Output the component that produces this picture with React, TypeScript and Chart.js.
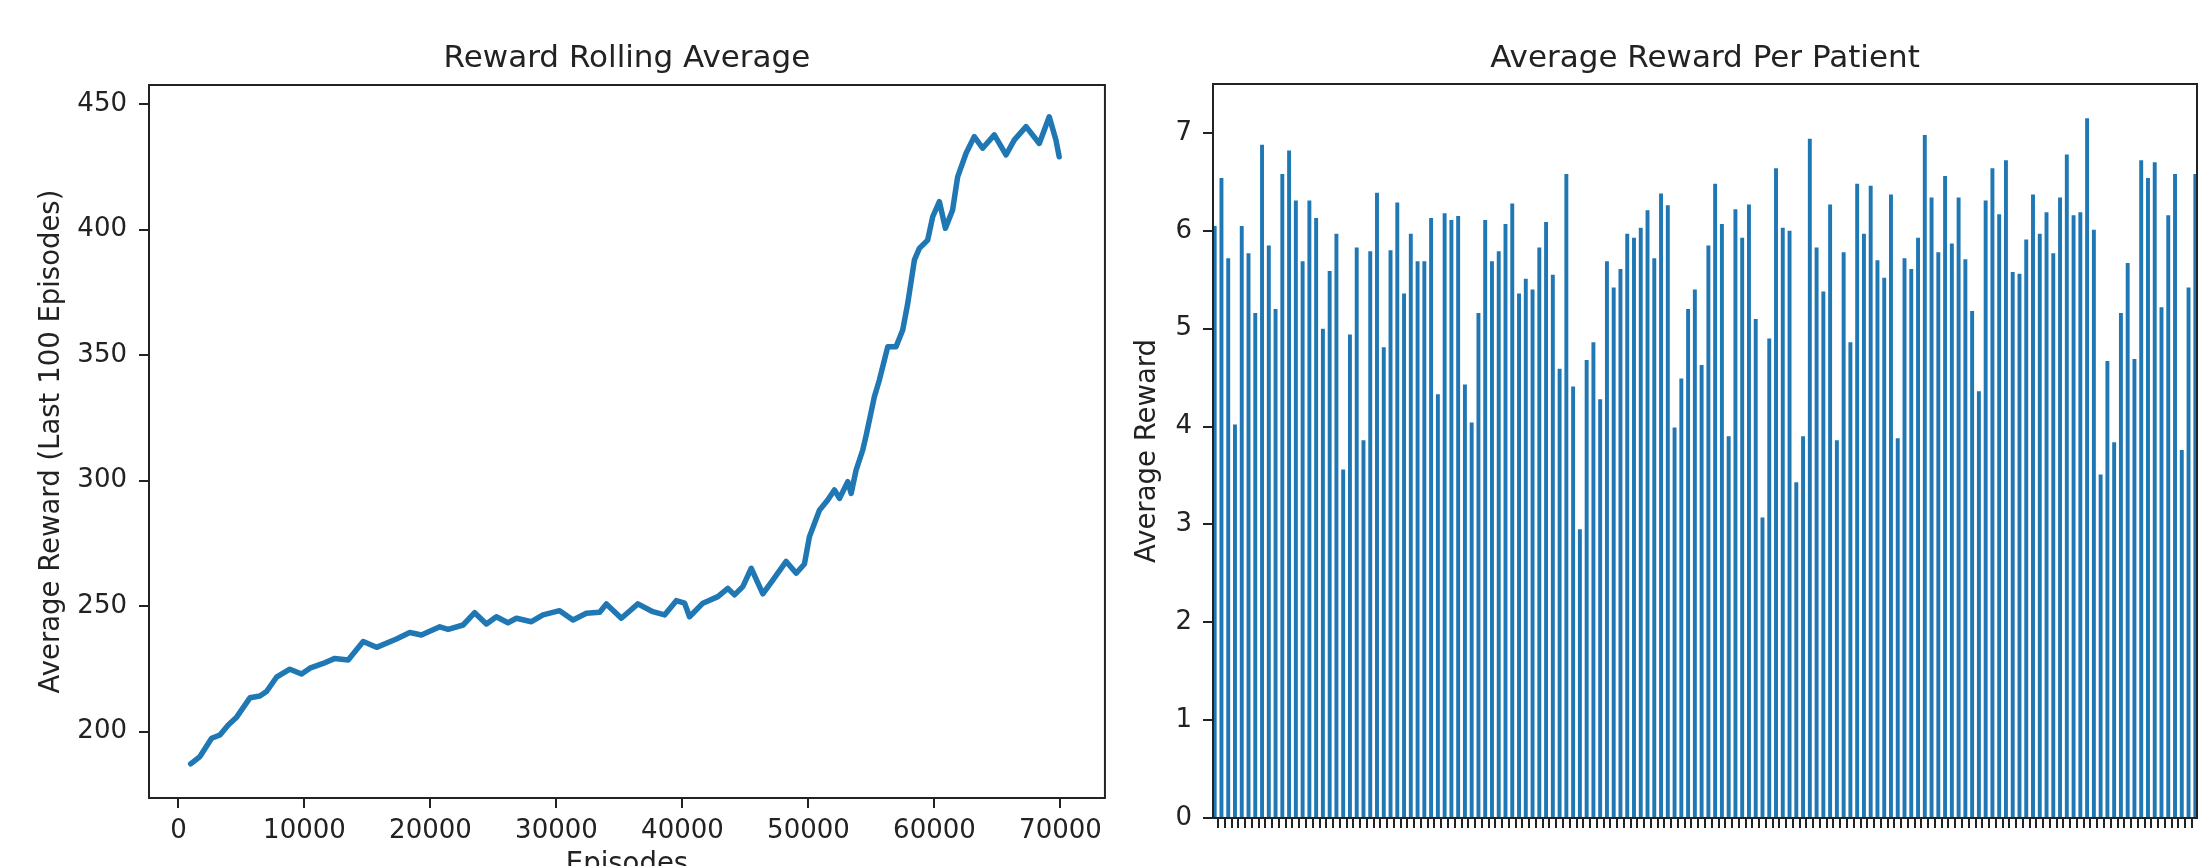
import React, { useEffect, useRef } from "react";
import { Chart, registerables } from "chart.js";

Chart.register(...registerables);

// ---------- Data ----------
const episodes = [
  967, 1705, 2630, 3290, 3950, 4615, 5670, 6460, 6990, 7780, 8840, 9770, 10430, 11480, 12410, 13470,
  14660, 15720, 17300, 18360, 19280, 20740, 21400, 22590, 23510, 24440, 25230, 26150, 26820, 28010,
  28930, 30250, 31310, 32370, 33430, 33960, 35150, 36460, 37650, 38580, 39510, 40170, 40560, 41620,
  42810, 43600, 44130, 44790, 45460, 46380, 47170, 48230, 49030, 49680, 50080, 50870, 51530, 52060,
  52460, 53120, 53390, 53780, 54310, 54580, 55230, 55630, 56290, 56950, 57480, 57880, 58410, 58800,
  59460, 59860, 60390, 60870, 61440, 61840, 62510, 63160, 63820, 64750, 65680, 66340, 67270, 68320,
  69110, 69640, 69900,
];
const rollingReward = [
  187.2, 190.1, 197.4, 198.7, 202.7, 205.8, 213.5, 214.2, 216, 221.7, 224.9, 223, 225.3, 227.2, 229.2, 228.6,
  235.9, 233.6, 236.9, 239.5, 238.5, 241.8, 240.8, 242.5, 247.4, 242.9, 245.8, 243.4, 245.2, 243.8,
  246.5, 248.2, 244.5, 247.2, 247.6, 250.9, 245.2, 250.9, 247.8, 246.5, 252.2, 251.2, 245.8, 251.2,
  253.8, 257.1, 254.5, 257.8, 265.1, 254.9, 260.4, 267.8, 263.1, 266.8, 277.7, 288.2, 292.3, 296.3,
  292.9, 299.6, 294.9, 304.2, 312.2, 318, 333.4, 340.1, 353.3, 353.3, 360, 370.6, 387.9, 392.5,
  395.8, 405.1, 411.1, 400.5, 407.8, 421, 430.4, 437, 432.4, 437.7, 429.7, 435.7, 441, 434.3,
  444.9, 435.7, 429,
];
const episodeTicks = [0, 10000, 20000, 30000, 40000, 50000, 60000, 70000];
const rewardTicks = [200, 250, 300, 350, 400, 450];

const patientRewards = [
  6.05, 6.54, 5.72, 4.02, 6.05, 5.77, 5.16, 6.88, 5.85, 5.2, 6.58, 6.82, 6.31, 5.69, 6.31, 6.13, 5.0, 5.59, 5.97, 3.56,
  4.94, 5.83, 3.86, 5.79, 6.39, 4.81, 5.8, 6.29, 5.36, 5.97, 5.69, 5.69, 6.13, 4.33, 6.18, 6.11, 6.15, 4.43, 4.04, 5.16,
  6.11, 5.69, 5.79, 6.07, 6.28, 5.36, 5.51, 5.4, 5.83, 6.09, 5.55, 4.59, 6.58, 4.41, 2.95, 4.68, 4.86, 4.28, 5.69, 5.42,
  5.61, 5.97, 5.93, 6.03, 6.21, 5.72, 6.38, 6.26, 3.99, 4.49, 5.2, 5.4,
  4.63, 5.85, 6.48, 6.07, 3.9, 6.22, 5.93, 6.27, 5.1, 3.07, 4.9, 6.64, 6.03, 6.0, 3.43, 3.9, 6.94, 5.83, 5.38, 6.27,
  3.86, 5.78, 4.86, 6.48, 5.97, 6.46, 5.7, 5.52, 6.37, 3.88, 5.72, 5.61, 5.93, 6.98, 6.34, 5.78, 6.56, 5.87, 6.34, 5.71,
  5.18, 4.36, 6.31, 6.64, 6.17, 6.72, 5.58, 5.56, 5.91, 6.37, 5.97, 6.19, 5.77, 6.34, 6.78, 6.16, 6.19, 7.15, 6.01, 3.51,
  4.67, 3.84, 5.16, 5.67, 4.69, 6.72, 6.54, 6.7, 5.22, 6.16, 6.58, 3.76, 5.42, 6.58,
];
const patientIds = patientRewards.map((_, i) => i);
const patientRewardTicks = [0, 1, 2, 3, 4, 5, 6, 7];

// ---------- Style ----------
const FONT = "'DejaVu Sans', 'Noto Sans', sans-serif";
const INK = "#222222";
const BLUE = "#1f77b4";
const TICK_FONT = { family: FONT, size: 26 };

function decorPlugin(
  id: string,
  title: string,
  yLabel: string,
  yLabelX: number,
  xLabel?: string,
  xLabelY?: number
) {
  return {
    id,
    afterDraw(chart: any) {
      const { ctx, chartArea: ca } = chart;
      ctx.save();
      ctx.fillStyle = INK;
      ctx.strokeStyle = INK;
      ctx.lineWidth = 2;
      ctx.strokeRect(ca.left, ca.top, ca.right - ca.left, ca.bottom - ca.top);
      ctx.font = `31px ${FONT}`;
      ctx.textAlign = "center";
      ctx.textBaseline = "alphabetic";
      ctx.fillText(title, (ca.left + ca.right) / 2, 67);
      if (xLabel && xLabelY !== undefined) {
        ctx.font = `27.5px ${FONT}`;
        ctx.fillText(xLabel, (ca.left + ca.right) / 2, xLabelY);
      }
      ctx.save();
      ctx.translate(yLabelX, (ca.top + ca.bottom) / 2);
      ctx.rotate(-Math.PI / 2);
      ctx.font = `27.5px ${FONT}`;
      ctx.textAlign = "center";
      ctx.textBaseline = "middle";
      ctx.fillText(yLabel, 0, 0);
      ctx.restore();
      ctx.restore();
    },
  };
}

const tickGrid = {
  display: true,
  drawOnChartArea: false,
  drawTicks: true,
  tickLength: 10,
  color: INK,
  lineWidth: 2,
};

function LineChart() {
  const ref = useRef<HTMLCanvasElement | null>(null);
  useEffect(() => {
    if (!ref.current) return;
    const W = 1110;
    const H = 900;
    const area = { left: 149, right: 1106, top: 85, bottom: 798 };
    const chart = new Chart(ref.current, {
      type: "line",
      data: {
        datasets: [
          {
            data: episodes.map((e, i) => ({ x: e, y: rollingReward[i] })),
            borderColor: BLUE,
            borderWidth: 5.5,
            borderJoinStyle: "round",
            borderCapStyle: "round",
            pointRadius: 0,
            tension: 0,
            fill: false,
          },
        ],
      },
      options: {
        animation: false,
        responsive: false,
        devicePixelRatio: 1,
        events: [],
        layout: { padding: { left: 0, top: area.top, right: W - area.right, bottom: 0 } },
        plugins: { legend: { display: false }, title: { display: false }, tooltip: { enabled: false } },
        scales: {
          x: {
            type: "linear",
            min: -2339,
            max: 73530,
            afterBuildTicks: (axis: any) => {
              axis.ticks = episodeTicks.map((v) => ({ value: v }));
            },
            afterFit: (scale: any) => {
              scale.height = H - area.bottom;
            },
            ticks: {
              font: TICK_FONT,
              color: INK,
              padding: 8,
              maxRotation: 0,
              minRotation: 0,
              autoSkip: false,
              callback: (v: any) => String(v),
            },
            grid: tickGrid,
            border: { display: false },
          },
          y: {
            type: "linear",
            min: 173.6,
            max: 457.57,
            afterBuildTicks: (axis: any) => {
              axis.ticks = rewardTicks.map((v) => ({ value: v }));
            },
            afterFit: (scale: any) => {
              scale.width = area.left;
            },
            ticks: {
              font: TICK_FONT,
              color: INK,
              padding: 12,
              callback: (v: any) => String(v),
            },
            grid: tickGrid,
            border: { display: false },
          },
        },
      },
      plugins: [
        decorPlugin("decorLeft", "Reward Rolling Average", "Average Reward (Last 100 Episodes)", 52, "Episodes", 872),
      ],
    } as any);
    return () => chart.destroy();
  }, []);
  return (
    <canvas
      ref={ref}
      width={1110}
      height={900}
      style={{ position: "absolute", left: 0, top: 0, width: 1110, height: 900 }}
    />
  );
}

function BarChart() {
  const ref = useRef<HTMLCanvasElement | null>(null);
  useEffect(() => {
    if (!ref.current) return;
    const W = 1090;
    const H = 900;
    const area = { left: 103, right: 1087, top: 84, bottom: 818 };
    const chart = new Chart(ref.current, {
      type: "bar",
      data: {
        datasets: [
          {
            data: patientIds.map((id, i) => ({ x: id, y: patientRewards[i] })),
            backgroundColor: BLUE,
            borderWidth: 0,
            categoryPercentage: 1,
            barPercentage: 0.58,
          },
        ],
      },
      options: {
        animation: false,
        responsive: false,
        devicePixelRatio: 1,
        events: [],
        layout: { padding: { left: 0, top: area.top, right: W - area.right, bottom: 0 } },
        plugins: { legend: { display: false }, title: { display: false }, tooltip: { enabled: false } },
        scales: {
          x: {
            type: "linear",
            offset: false,
            min: -0.25,
            max: patientIds.length - 0.75,
            afterBuildTicks: (axis: any) => {
              axis.ticks = patientIds.map((v) => ({ value: v }));
            },
            afterFit: (scale: any) => {
              scale.height = H - area.bottom;
            },
            ticks: { display: false, autoSkip: false },
            grid: tickGrid,
            border: { display: false },
          },
          y: {
            type: "linear",
            min: 0,
            max: 7.5,
            afterBuildTicks: (axis: any) => {
              axis.ticks = patientRewardTicks.map((v) => ({ value: v }));
            },
            afterFit: (scale: any) => {
              scale.width = area.left;
            },
            ticks: {
              font: TICK_FONT,
              color: INK,
              padding: 11,
              callback: (v: any) => String(v),
            },
            grid: tickGrid,
            border: { display: false },
          },
        },
      },
      plugins: [decorPlugin("decorRight", "Average Reward Per Patient", "Average Reward", 38)],
    } as any);
    return () => chart.destroy();
  }, []);
  return (
    <canvas
      ref={ref}
      width={1090}
      height={900}
      style={{ position: "absolute", left: 1110, top: 0, width: 1090, height: 900 }}
    />
  );
}

export default function App() {
  return (
    <div
      style={{
        position: "fixed",
        left: 0,
        top: 0,
        width: 2200,
        height: 866,
        overflow: "hidden",
        background: "#ffffff",
      }}
    >
      <LineChart />
      <BarChart />
    </div>
  );
}
